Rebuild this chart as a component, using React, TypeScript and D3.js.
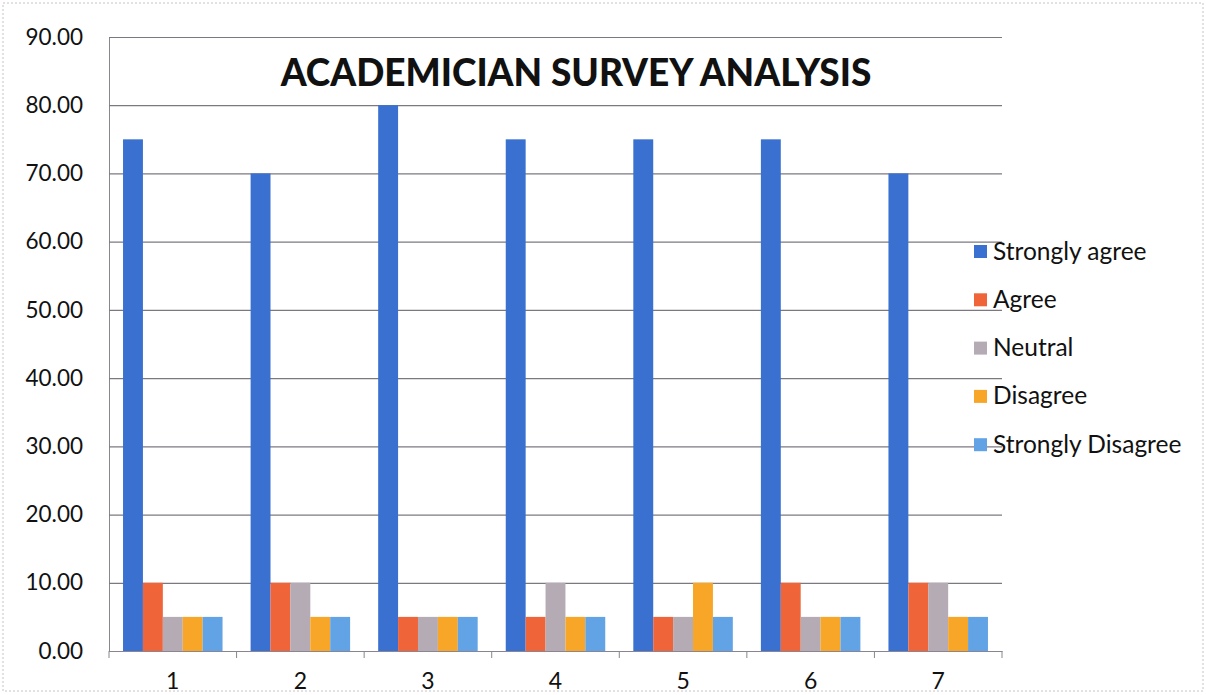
import React, { useRef, useEffect } from 'react'
import * as d3 from 'd3'

const categories = ['1', '2', '3', '4', '5', '6', '7']
const seriesNames = ['Strongly agree', 'Agree', 'Neutral', 'Disagree', 'Strongly Disagree']
const stronglyAgree = [75, 70, 80, 75, 75, 75, 70]
const agree = [10, 10, 5, 5, 5, 10, 10]
const neutral = [5, 10, 5, 10, 5, 5, 10]
const disagree = [5, 5, 5, 5, 10, 5, 5]
const stronglyDisagree = [5, 5, 5, 5, 5, 5, 5]
const yTicks = [0, 10, 20, 30, 40, 50, 60, 70, 80, 90]
const colors = ['#3a70d0', '#f0643a', '#b4abb4', '#f8a627', '#62a3e6']

const App = () => {
    const visEl = useRef(null)
    const width = 1206
    const height = 695

    useEffect(() => {
        d3.select('body').style('margin', '0')
        const root = d3.select(visEl.current)
        root.selectAll('*').remove()
        const svg = root.append('svg')
            .attr('width', width)
            .attr('height', height)
            .style('display', 'block')
            .style('font-family', 'Lato, "Open Sans", sans-serif')

        svg.append('rect')
            .attr('x', 3).attr('y', 3)
            .attr('width', width - 6).attr('height', height - 7)
            .attr('fill', '#fff')
            .attr('stroke', '#c8c0c8')
            .attr('stroke-dasharray', '2,2')

        const margin = { top: 37, right: 204, bottom: 44, left: 109 }
        const innerWidth = width - margin.left - margin.right
        const innerHeight = height - margin.top - margin.bottom

        const allSeries = [stronglyAgree, agree, neutral, disagree, stronglyDisagree]

        const x0 = d3.scaleBand().domain(categories).range([0, innerWidth]).paddingInner(0.22).paddingOuter(0.11)
        const xTick = d3.scaleBand().domain(categories).range([0, innerWidth])
        const x1 = d3.scaleBand().domain(seriesNames).range([0, x0.bandwidth()])
        const y = d3.scaleLinear().domain([0, 90]).range([innerHeight, 0])

        const g = svg.append('g').attr('transform', `translate(${margin.left},${margin.top})`)

        // gridlines
        const yAxis = d3.axisLeft(y).tickValues(yTicks).tickSize(-innerWidth).tickFormat(d3.format('.2f'))
        const yAxisG = g.append('g').call(yAxis)
        yAxisG.select('.domain').attr('stroke', '#8a8590')
        yAxisG.selectAll('.tick line').attr('stroke', '#7d7880').attr('stroke-width', 1.2)
        yAxisG.selectAll('.tick text')
            .attr('x', -26)
            .attr('fill', '#111')
            .style('font-size', '22.5px')
            .style('font-family', 'Lato, "Open Sans", sans-serif')

        // bars
        categories.forEach((c, i) => {
            const grp = g.append('g').attr('transform', `translate(${x0(c)},0)`)
            seriesNames.forEach((s, j) => {
                const v = allSeries[j][i]
                grp.append('rect')
                    .attr('x', x1(s))
                    .attr('y', y(v))
                    .attr('width', x1.bandwidth())
                    .attr('height', innerHeight - y(v))
                    .attr('fill', colors[j])
            })
        })

        // x axis
        const xAxis = d3.axisBottom(xTick).tickSize(0).tickSizeOuter(0)
        const xAxisG = g.append('g').attr('transform', `translate(0,${innerHeight})`).call(xAxis)
        xAxisG.select('.domain').attr('stroke', '#8a8590').attr('stroke-width', 1.2)
        xAxisG.selectAll('.tick text')
            .attr('y', 22)
            .attr('dy', '0.71em')
            .attr('fill', '#111')
            .style('font-size', '23px')
            .style('font-family', 'Lato, "Open Sans", sans-serif')
        const boundaries = categories.map(c => xTick(c)).concat([innerWidth])
        g.selectAll('.xb').data(boundaries).enter().append('line')
            .attr('x1', d => d).attr('x2', d => d)
            .attr('y1', innerHeight).attr('y2', innerHeight + 7)
            .attr('stroke', '#8a8590')

        // title
        svg.append('text')
            .attr('x', 576)
            .attr('y', 86)
            .attr('text-anchor', 'middle')
            .attr('fill', '#111')
            .style('font-size', '37px')
            .style('font-weight', '900')
            .text('ACADEMICIAN SURVEY ANALYSIS')

        // legend
        const legend = svg.append('g').attr('transform', 'translate(974,251)')
        seriesNames.forEach((s, j) => {
            const row = legend.append('g').attr('transform', `translate(0,${j * 48.3})`)
            row.append('rect').attr('x', 0).attr('y', -6).attr('width', 13).attr('height', 13).attr('fill', colors[j])
            row.append('text')
                .attr('x', 19)
                .attr('y', 0)
                .attr('dy', '0.35em')
                .attr('fill', '#111')
                .style('font-size', '24.5px')
                .text(s)
        })
    }, [])

    return (
        <div>
            <div ref={visEl}></div>
        </div>
    )
}

export default App
